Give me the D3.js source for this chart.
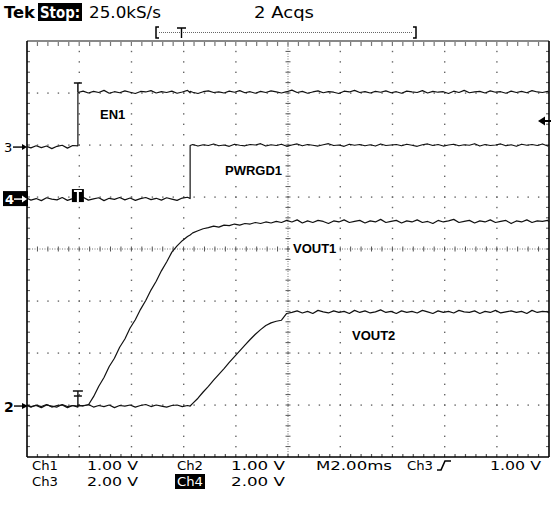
<!DOCTYPE html>
<html><head><meta charset="utf-8">
<script src="https://cdn.jsdelivr.net/npm/d3@7"></script>
<style>body{margin:0;background:#fff}svg{display:block}</style>
</head><body><svg id="c" width="553" height="506"></svg>
<script>
// ---- data (time in ms relative to trigger, volts per channel) ----
const sampleTimes = [-1.95,-1.8,-1.6,-1.4,-1.2,-1.0,-0.8,-0.6,-0.4,-0.2,0,0,
 0.2,0.4,0.6,0.8,1.0,1.2,1.4,1.6,1.8,2.0,2.2,2.4,2.6,2.8,3.0,3.2,3.4,3.6,3.8,4.0,4.2,4.3,4.3,
 4.4,4.6,4.8,5.0,5.2,5.4,5.6,5.8,6.0,6.2,6.4,6.6,6.8,7.0,7.2,7.4,7.6,7.8,8.0,
 8.2,8.4,8.6,8.8,9.0,9.2,9.4,9.6,9.8,10.0,10.2,10.4,10.6,10.8,11.0,11.2,11.4,11.6,11.8,12.0,
 12.2,12.4,12.6,12.8,13.0,13.2,13.4,13.6,13.8,14.0,14.2,14.4,14.6,14.8,15.0,15.2,15.4,15.6,15.8,16.0,
 16.2,16.4,16.6,16.8,17.0,17.2,17.4,17.6,17.8,18.0,18.05];

const en1Volts = [0.02,-0.03,0.05,-0.02,0.04,-0.06,0.03,0.07,-0.04,0.06,0.05,2.10,
 2.15,2.08,2.14,2.10,2.18,2.07,2.13,2.09,2.16,2.11,2.06,2.14,2.12,2.17,2.08,2.13,2.10,2.15,2.07,2.12,
 2.18,2.09,2.14,2.11,2.06,2.13,2.16,2.10,2.12,2.08,2.15,2.11,2.17,2.09,2.13,2.07,2.14,2.10,2.16,2.12,
 2.08,2.13,2.19,2.10,2.14,2.07,2.12,2.16,2.09,2.13,2.11,2.06,2.15,2.12,2.18,2.10,2.13,2.08,2.14,2.11,
 2.16,2.09,2.13,2.07,2.15,2.12,2.10,2.17,2.08,2.14,2.11,2.13,2.06,2.15,2.10,2.18,2.09,2.12,2.14,2.08,
 2.16,2.11,2.13,2.07,2.15,2.10,2.14,2.09,2.17,2.12,2.10,2.14,2.11];

const pwrgd1Volts = [0.03,-0.04,0.02,-0.06,0.05,0.00,-0.03,0.06,-0.05,0.02,
 0.04,-0.02,0.07,-0.04,0.01,0.05,-0.06,0.03,-0.01,0.06,
 -0.03,0.04,-0.05,0.02,0.06,-0.02,0.03,-0.04,0.05,0.00,-0.05,0.04,0.07,0.02,2.06,
 2.10,2.04,2.09,2.06,2.12,2.05,2.08,2.03,2.11,2.07,2.05,2.10,2.08,2.13,2.04,2.09,2.06,2.11,2.03,2.08,
 2.12,2.05,2.10,2.07,2.04,2.09,2.13,2.06,2.08,2.03,2.11,2.07,2.10,2.05,2.09,2.04,2.12,2.06,2.08,2.10,
 2.05,2.11,2.07,2.03,2.09,2.12,2.06,2.10,2.04,2.08,2.11,2.05,2.09,2.07,2.13,2.04,2.10,2.06,2.08,2.12,
 2.05,2.09,2.03,2.11,2.07,2.10,2.06,2.12,2.04,2.08];

const vout1Volts = [0.01,-0.02,0.02,-0.01,0.03,-0.02,0.01,0.02,-0.03,0.01,0.00,0.00,
 0.01,0.02,0.18,0.38,0.55,0.76,0.92,1.13,1.29,1.50,1.66,1.86,2.03,2.23,2.40,2.60,2.77,2.96,3.08,3.18,3.26,3.29,3.29,
 3.33,3.37,3.41,3.43,3.46,3.44,3.48,3.47,3.50,3.48,3.51,3.50,3.53,3.51,3.54,3.52,3.55,3.53,3.57,
 3.54,3.58,3.52,3.56,3.53,3.57,3.55,3.51,3.56,3.54,3.58,3.53,3.55,3.57,3.52,3.56,3.54,3.59,3.53,3.55,
 3.57,3.52,3.56,3.54,3.58,3.53,3.55,3.51,3.57,3.54,3.56,3.59,3.53,3.55,3.57,3.52,3.56,3.54,3.58,3.53,
 3.55,3.57,3.51,3.56,3.54,3.58,3.53,3.56,3.55,3.57,3.54];

const vout2Volts = [0.02,-0.01,0.01,-0.03,0.02,0.00,-0.02,0.03,-0.01,0.01,
 -0.02,0.02,0.00,0.03,-0.02,0.01,-0.01,0.02,-0.03,0.01,
 0.00,0.02,-0.02,0.01,0.03,-0.01,0.02,0.00,-0.02,0.01,0.02,-0.01,0.01,0.00,0.00,
 0.05,0.15,0.27,0.38,0.50,0.61,0.72,0.84,0.95,1.06,1.17,1.28,1.38,1.47,1.55,1.60,1.63,1.65,1.78,
 1.80,1.83,1.79,1.82,1.78,1.84,1.81,1.79,1.83,1.80,1.82,1.78,1.84,1.80,1.83,1.79,1.81,1.85,1.80,1.82,
 1.78,1.83,1.80,1.82,1.79,1.84,1.81,1.78,1.83,1.80,1.82,1.79,1.84,1.81,1.80,1.83,1.78,1.82,1.80,1.84,
 1.79,1.81,1.83,1.80,1.82,1.78,1.84,1.80,1.82,1.81,1.79];

const channelNames = ["EN1", "PWRGD1", "VOUT1", "VOUT2"];
const channelVoltsPerDiv = [2, 2, 1, 1];
const channelGroundDiv = [1.96, 0.96, -3.02, -3.02];
const timeDomain = [-1.95, 18.05];        // 10 div x 2.00 ms
const headerTexts = ["Tek", "Stop:", "25.0kS/s", "2 Acqs"];
const readoutRow1 = ["Ch1", "1.00 V", "Ch2", "1.00 V", "M2.00ms", "Ch3", "1.00 V"];
const readoutRow2 = ["Ch3", "2.00 V", "Ch4", "2.00 V"];

// ---- layout ----
const L = 27, R = 549, T = 41, B = 457;
const svg = d3.select("#c");
const x = d3.scaleLinear().domain(timeDomain).range([L, R]);
const xDiv = d3.scaleLinear().domain([0, 10]).range([L, R]);
const yDiv = d3.scaleLinear().domain([-4, 4]).range([B, T]);
const seriesVolts = [en1Volts, pwrgd1Volts, vout1Volts, vout2Volts];

// ---- graticule ----
const g = svg.append("g");
const dotCol = "#666";
for (let k = 1; k < 10; k++) {
  if (k === 5) continue;
  for (let j = 1; j < 40; j++) {
    g.append("rect").attr("x", xDiv(k) - 0.6).attr("y", yDiv(-4 + j / 5) - 0.6)
      .attr("width", 1.4).attr("height", 1.4).attr("fill", dotCol);
  }
}
for (let k = 1; k < 8; k++) {
  if (k === 4) continue;
  for (let i = 1; i < 50; i++) {
    g.append("rect").attr("x", xDiv(i / 5) - 0.6).attr("y", yDiv(-4 + k) - 0.6)
      .attr("width", 1.4).attr("height", 1.4).attr("fill", dotCol);
  }
}
// center cross
const cx = xDiv(5), cy = yDiv(0);
g.append("line").attr("x1", cx).attr("x2", cx).attr("y1", T).attr("y2", B)
  .attr("stroke", "#777").attr("stroke-width", 1).attr("stroke-dasharray", "1,1.5");
g.append("line").attr("x1", L).attr("x2", R).attr("y1", cy).attr("y2", cy)
  .attr("stroke", "#777").attr("stroke-width", 1).attr("stroke-dasharray", "1,1.5");
for (let j = 1; j < 40; j++) {
  g.append("line").attr("x1", cx - 2.5).attr("x2", cx + 2.5)
    .attr("y1", yDiv(-4 + j / 5)).attr("y2", yDiv(-4 + j / 5)).attr("stroke", "#555");
}
for (let i = 1; i < 50; i++) {
  g.append("line").attr("y1", cy - 2.5).attr("y2", cy + 2.5)
    .attr("x1", xDiv(i / 5)).attr("x2", xDiv(i / 5)).attr("stroke", "#555");
}
// edge ticks
for (let i = 1; i < 50; i++) {
  const xi = xDiv(i / 5);
  g.append("line").attr("x1", xi).attr("x2", xi).attr("y1", T).attr("y2", T + 5).attr("stroke", "#777").attr("stroke-width", 1.2);
  g.append("line").attr("x1", xi).attr("x2", xi).attr("y1", B - 3).attr("y2", B).attr("stroke", "#555").attr("stroke-width", 1.2);
}
for (let j = 1; j < 40; j++) {
  const yj = yDiv(-4 + j / 5);
  g.append("line").attr("x1", L).attr("x2", L + 3).attr("y1", yj).attr("y2", yj).attr("stroke", "#555");
  g.append("line").attr("x1", R - 3).attr("x2", R).attr("y1", yj).attr("y2", yj).attr("stroke", "#555");
}
// frame
g.append("line").attr("x1", L).attr("x2", R).attr("y1", T).attr("y2", T).attr("stroke", "#888").attr("stroke-width", 2);
g.append("line").attr("x1", L).attr("x2", L).attr("y1", T).attr("y2", B).attr("stroke", "#000").attr("stroke-width", 1.6);
g.append("line").attr("x1", R).attr("x2", R).attr("y1", T).attr("y2", B).attr("stroke", "#000").attr("stroke-width", 1.6);
g.append("line").attr("x1", L).attr("x2", R).attr("y1", B).attr("y2", B).attr("stroke", "#000").attr("stroke-width", 1.6);

// ---- labels with white backgrounds ----
const labelPos = [[100, 119], [225, 175], [293, 253], [352, 340]];
channelNames.forEach((name, i) => {
  const t = svg.append("text").attr("x", labelPos[i][0]).attr("y", labelPos[i][1])
    .attr("font-family", "Liberation Sans, Arial, sans-serif").attr("font-weight", "bold")
    .attr("font-size", 13).text(name);
  const bb = t.node().getBBox();
  svg.insert("rect", "text").attr("x", bb.x - 3).attr("y", bb.y - 2)
    .attr("width", bb.width + 6).attr("height", bb.height + 4).attr("fill", "#fff");
});

// ---- traces ----
seriesVolts.forEach((vals, ci) => {
  const pts = sampleTimes.map((t, i) => [x(t), yDiv(channelGroundDiv[ci] + vals[i] / channelVoltsPerDiv[ci])]);
  svg.append("path").attr("d", d3.line()(pts)).attr("fill", "none")
    .attr("stroke", "#111").attr("stroke-width", 1.2).attr("stroke-linejoin", "round");
});

// ---- trigger markers ----
const tx = x(0);
const yEn1High = yDiv(channelGroundDiv[0] + 2.12 / 2);
svg.append("path").attr("d", `M${tx - 4},${yEn1High - 9}H${tx + 4}M${tx},${yEn1High - 9}V${yEn1High}`)
  .attr("stroke", "#111").attr("stroke-width", 1.5).attr("fill", "none");
const y4 = yDiv(channelGroundDiv[1]);
svg.append("rect").attr("x", tx - 6).attr("y", y4 - 10).attr("width", 12).attr("height", 13).attr("fill", "#000");
svg.append("path").attr("d", `M${tx - 4},${y4 - 8}H${tx + 4}M${tx},${y4 - 8}V${y4 + 3}`)
  .attr("stroke", "#fff").attr("stroke-width", 2).attr("fill", "none");
const y2g = yDiv(channelGroundDiv[3]);
svg.append("path").attr("d", `M${tx - 5},${y2g - 15}H${tx + 5}M${tx - 4},${y2g - 10}H${tx + 4}M${tx},${y2g - 15}V${y2g}`)
  .attr("stroke", "#111").attr("stroke-width", 1.4).attr("fill", "none");

// trigger level arrow (right)
svg.append("path").attr("d", "M538,121L545,116.5L545,125.5Z").attr("fill", "#000");
svg.append("line").attr("x1", 544).attr("x2", 551).attr("y1", 121).attr("y2", 121).attr("stroke", "#000").attr("stroke-width", 2);

// ---- channel ground markers (left) ----
const mono = "DejaVu Sans, Verdana, sans-serif";
const y3 = yDiv(channelGroundDiv[0]);
svg.append("text").attr("x", 4).attr("y", y3 + 5).attr("font-family", mono).attr("font-size", 13).text("3");
svg.append("path").attr("d", `M13,${y3}H24`).attr("stroke", "#000").attr("stroke-width", 1.4);
svg.append("path").attr("d", `M27,${y3}L22,${y3 - 3}L22,${y3 + 3}Z`).attr("fill", "#000");
svg.append("rect").attr("x", 3).attr("y", y4 - 8).attr("width", 25).attr("height", 15).attr("fill", "#000");
svg.append("text").attr("x", 5).attr("y", y4 + 5).attr("font-family", mono).attr("font-weight", "bold").attr("font-size", 13).attr("fill", "#fff").text("4");
svg.append("path").attr("d", `M14,${y4}H23`).attr("stroke", "#fff").attr("stroke-width", 1.5);
svg.append("path").attr("d", `M27,${y4}L22,${y4 - 3.5}L22,${y4 + 3.5}Z`).attr("fill", "#fff");
svg.append("text").attr("x", 4).attr("y", y2g + 5.5).attr("font-family", mono).attr("font-weight", "bold").attr("font-size", 14).text("2");
svg.append("path").attr("d", `M14,${y2g}H24`).attr("stroke", "#000").attr("stroke-width", 1.4);
svg.append("path").attr("d", `M28,${y2g}L22,${y2g - 3}L22,${y2g + 3}Z`).attr("fill", "#000");

// ---- header ----
svg.append("text").attr("x", 4).attr("y", 18).attr("font-family", mono).attr("font-weight", "bold")
  .attr("font-size", 16).attr("textLength", 31).attr("lengthAdjust", "spacingAndGlyphs").text(headerTexts[0]);
svg.append("rect").attr("x", 38).attr("y", 3).attr("width", 44).attr("height", 18).attr("fill", "#000");
svg.append("text").attr("x", 40).attr("y", 18).attr("font-family", mono).attr("font-weight", "bold")
  .attr("font-size", 16).attr("fill", "#fff").attr("textLength", 40).attr("lengthAdjust", "spacingAndGlyphs").text(headerTexts[1]);
svg.append("text").attr("x", 89).attr("y", 18).attr("font-family", mono)
  .attr("font-size", 16).attr("textLength", 72).attr("lengthAdjust", "spacingAndGlyphs").text(headerTexts[2]);
svg.append("text").attr("x", 254).attr("y", 18).attr("font-family", mono)
  .attr("font-size", 16).attr("textLength", 60).attr("lengthAdjust", "spacingAndGlyphs").text(headerTexts[3]);
// record bracket
svg.append("path").attr("d", "M159,27H156V38H159M413,27H416V38H413").attr("stroke", "#000").attr("stroke-width", 1.5).attr("fill", "none");
svg.append("line").attr("x1", 159).attr("x2", 413).attr("y1", 32.5).attr("y2", 32.5).attr("stroke", "#666").attr("stroke-dasharray", "1,1");
svg.append("path").attr("d", "M177,28H186M181.5,28V38").attr("stroke", "#000").attr("stroke-width", 1.4).attr("fill", "none");

// ---- readout ----
const row1Y = 470, row2Y = 486;
const r1x = [32, 87, 177, 231, 316, 407, 490];
const r1w = [26, 51, 26, 54, 76, 26, 51];
readoutRow1.forEach((s, i) => {
  svg.append("text").attr("x", r1x[i]).attr("y", row1Y).attr("font-family", mono).attr("font-size", 13)
    .attr("textLength", r1w[i]).attr("lengthAdjust", "spacingAndGlyphs").text(s);
});
svg.append("path").attr("d", `M437,${row1Y}H441L445,${row1Y - 9}H451`).attr("stroke", "#000").attr("stroke-width", 1.6).attr("fill", "none");
const r2x = [32, 87, 177, 231];
const r2w = [26, 51, 26, 54];
svg.append("rect").attr("x", 175).attr("y", row2Y - 12).attr("width", 30).attr("height", 15).attr("fill", "#000");
readoutRow2.forEach((s, i) => {
  svg.append("text").attr("x", r2x[i]).attr("y", row2Y).attr("font-family", mono).attr("font-size", 13)
    .attr("fill", i === 2 ? "#fff" : "#000")
    .attr("textLength", r2w[i]).attr("lengthAdjust", "spacingAndGlyphs").text(s);
});
</script></body></html>
